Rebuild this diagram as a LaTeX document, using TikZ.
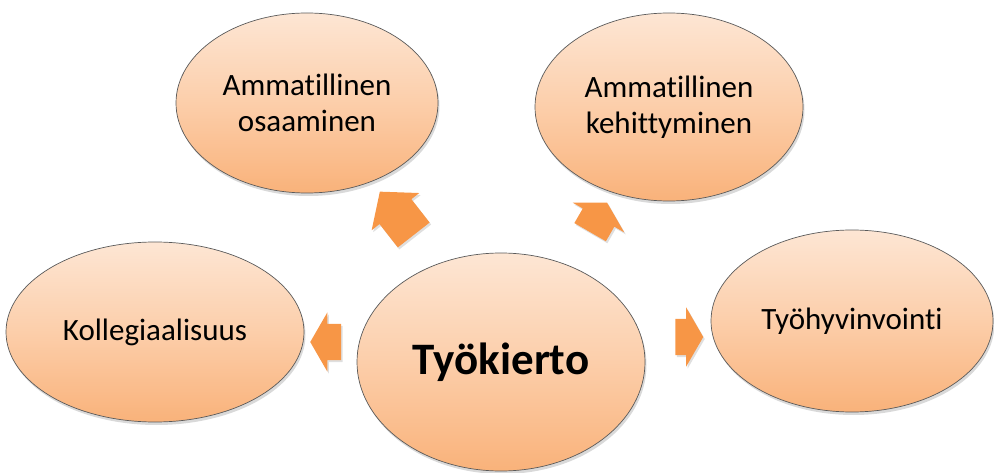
\documentclass[tikz,border=0pt]{standalone}
\usepackage{fontspec}
\setmainfont{Carlito}[Ligatures=NoCommon]
\usepackage{tikz}
\usetikzlibrary{shapes.geometric,shapes.arrows,shadows}
\definecolor{Peach}{HTML}{FDE6D4}
\definecolor{PeachMid}{HTML}{FCCEAA}
\definecolor{PeachDeep}{HTML}{F9B27A}
\definecolor{Pump}{HTML}{F79646}
\definecolor{Rim}{HTML}{5A5A5A}

\begin{document}
\begin{tikzpicture}[x=1pt,y=-1pt,
  blob/.style={ellipse,draw=Rim,line width=0.7pt,inner sep=0pt,align=center,
    top color=Peach,bottom color=PeachDeep,middle color=PeachMid,
    drop shadow={shadow xshift=1.5pt,shadow yshift=-3pt,opacity=0.3},
    font=\fontsize{31}{36}\selectfont},
  pointer/.style={single arrow,fill=Pump,inner xsep=0pt,inner ysep=18pt,
    single arrow head extend=11.5pt,single arrow tip angle=120,
    drop shadow={shadow xshift=1.5pt,shadow yshift=-2pt,opacity=0.25}}]
  \useasboundingbox (0,0) rectangle (994,473);
  % outer themes
  \node[blob,minimum width=262pt,minimum height=180pt] (osaaminen) at (307,103) {Ammatillinen\\osaaminen};
  \node[blob,minimum width=268pt,minimum height=188pt] (kehitys) at (669,107) {Ammatillinen\\kehittyminen};
  \node[blob,minimum width=298pt,minimum height=180pt] (kollegat) at (155,332) {Kollegiaalisuus};
  \node[blob,minimum width=282pt,minimum height=182pt] (hyvinvointi) at (852,321) {Työhyvinvointi};
  % centre
  \node[blob,minimum width=288pt,minimum height=218pt,
    font=\bfseries\fontsize{45}{50}\selectfont] (kierto) at (501,362) {Työkierto};
  % block arrows
  \foreach \nm/\px/\py/\ang/\len in {toL/331/342/180/31, toR/684/337/0/28, toTR/596/222/60/34} {
    \node[pointer,rotate=\ang,minimum height=\len pt] (\nm) at (\px,\py) {};
  }
  \node[pointer,rotate=128,minimum height=55pt,single arrow tip angle=100,
    inner ysep=20pt,single arrow head extend=10pt] (toTL) at (402,220) {};
\end{tikzpicture}
\end{document}
